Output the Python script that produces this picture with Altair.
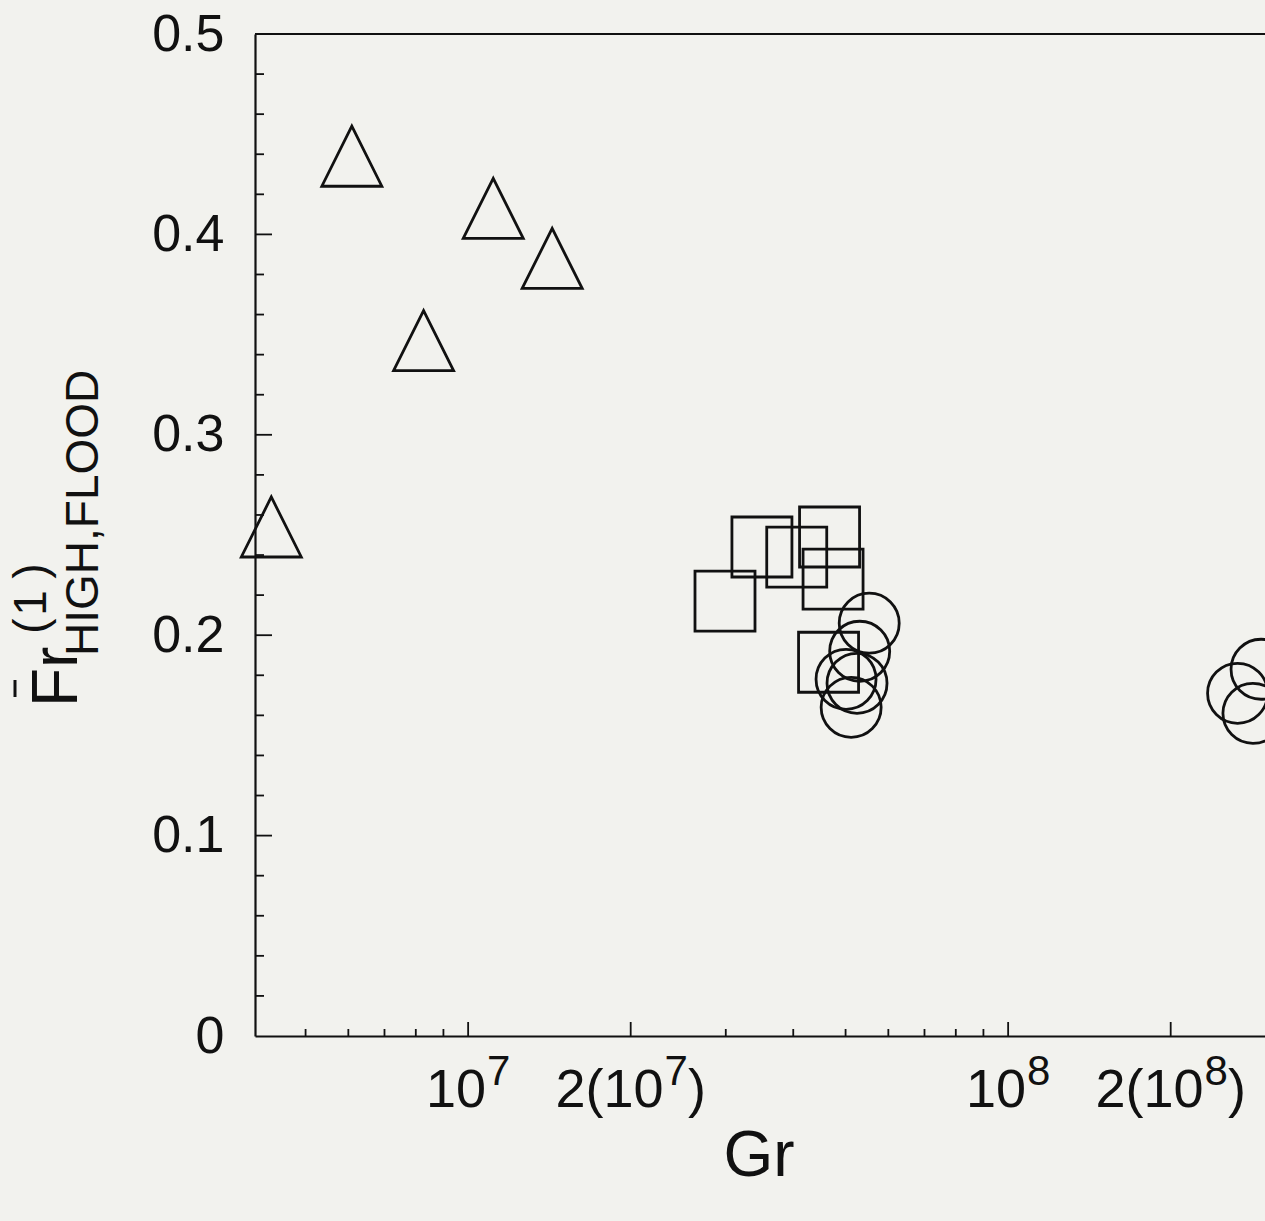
import altair as alt
import pandas as pd

# Measured points: Froude number of the flood flow vs. Grashof number
tri_gr = [4.32e6, 6.09e6, 8.27e6, 1.113e7, 1.431e7]
tri_fr = [0.254, 0.439, 0.347, 0.413, 0.388]

sq_gr = [2.99e7, 3.50e7, 4.06e7, 4.67e7, 4.74e7, 4.65e7]
sq_fr = [0.217, 0.244, 0.239, 0.249, 0.228, 0.1865]

circ_gr = [5.53e7, 5.31e7, 5.01e7, 5.25e7, 5.12e7, 2.94e8, 2.66e8, 2.84e8]
circ_fr = [0.206, 0.192, 0.178, 0.176, 0.164, 0.183, 0.171, 0.161]

series_names = ["triangle", "square", "circle"]

# Axis tick positions
x_major = [1e7, 2e7, 1e8, 2e8]
x_minor = [5e6, 6e6, 7e6, 8e6, 9e6, 3e7, 4e7, 5e7, 6e7, 7e7, 8e7, 9e7]
y_labels = [0.0, 0.1, 0.2, 0.3, 0.4, 0.5]
y_major = [0.1, 0.2, 0.3, 0.4, 0.5]
y_minor = [0.02, 0.04, 0.06, 0.08, 0.12, 0.14, 0.16, 0.18, 0.22, 0.24, 0.26,
           0.28, 0.32, 0.34, 0.36, 0.38, 0.42, 0.44, 0.46, 0.48]

# x tick labels: (mantissa part, exponent, closing part)
x_label_parts = [("10", "7", ""), ("2(10", "7", ")"), ("10", "8", ""), ("2(10", "8", ")")]

x_title = "Gr"
y_title_main = "Fr"
y_title_sup = ["(", "1", ")"]
y_title_sub = "HIGH,FLOOD"

W, H = 1010, 1002
FONT = "Liberation Sans"
INK = "#111111"

xs = alt.Scale(type="log", domain=[4.03e6, 2.99e8], nice=False)
ys = alt.Scale(domain=[0, 0.5], nice=False, zero=False)

ax_x = alt.Axis(domain=True, domainColor=INK, domainWidth=2.2, ticks=False,
                labels=False, grid=False, title=None)
ax_y = alt.Axis(values=y_labels, domain=True, domainColor=INK, domainWidth=2.2,
                ticks=False, grid=False, title=None,
                labelExpr="datum.value == 0 ? '0' : format(datum.value, '.1f')",
                labelFont=FONT, labelFontSize=52, labelColor=INK, labelPadding=31)

pts = pd.DataFrame({
    "Gr": tri_gr + sq_gr + circ_gr,
    "Fr": tri_fr + sq_fr + circ_fr,
    "series": [series_names[0]] * len(tri_gr) + [series_names[1]] * len(sq_gr)
              + [series_names[2]] * len(circ_gr),
})

points = alt.Chart(pts).mark_point(
    filled=False, color=INK, strokeWidth=2.8, size=3600, opacity=1
).encode(
    x=alt.X("Gr:Q", scale=xs, axis=ax_x),
    y=alt.Y("Fr:Q", scale=ys, axis=ax_y),
    shape=alt.Shape("series:N", legend=None,
                    scale=alt.Scale(domain=series_names,
                                    range=["M0,-1L-1,1L1,1Z", "square", "circle"])),
)


def x_ticks(values, length):
    return alt.Chart(pd.DataFrame({"Gr": values})).mark_rule(
        color=INK, strokeWidth=1.8
    ).encode(
        x=alt.X("Gr:Q", scale=xs, axis=ax_x),
        y=alt.value(H), y2=alt.value(H - length),
    )


def y_ticks(values, length):
    return alt.Chart(pd.DataFrame({"Fr": values})).mark_rule(
        color=INK, strokeWidth=1.8
    ).encode(
        y=alt.Y("Fr:Q", scale=ys, axis=ax_y),
        x=alt.value(0), x2=alt.value(length),
    )


one = pd.DataFrame({"k": [0]})
top_border = alt.Chart(one).mark_rule(color=INK, strokeWidth=2.2).encode(
    x=alt.value(0), x2=alt.value(W), y=alt.value(0)
)

# x tick labels built from mantissa, raised exponent and closing parenthesis
BASE_FS, EXP_FS = 54, 42


def text_width(s, fs):
    widths = {"(": 0.333, ")": 0.333}
    return sum(widths.get(c, 0.556) for c in s) * fs


label_layers = []
for value, (base, exp, tail) in zip(x_major, x_label_parts):
    wb = text_width(base, BASE_FS)
    we = text_width(exp, EXP_FS)
    wt = text_width(tail, BASE_FS)
    gap = 1
    left = -(wb + gap + we + wt) / 2
    parts = [(base, BASE_FS, left, H + 71),
             (exp, EXP_FS, left + wb + gap, H + 49)]
    if tail:
        parts.append((tail, BASE_FS, left + wb + gap + we, H + 71))
    for txt, fs, dx, ypos in parts:
        label_layers.append(
            alt.Chart(pd.DataFrame({"Gr": [value], "t": [txt]})).mark_text(
                font=FONT, fontSize=fs, color=INK, align="left",
                baseline="alphabetic", dx=dx
            ).encode(
                x=alt.X("Gr:Q", scale=xs, axis=ax_x),
                y=alt.value(ypos),
                text="t:N",
            )
        )

x_title_layer = alt.Chart(pd.DataFrame({"t": [x_title]})).mark_text(
    font=FONT, fontSize=64, color=INK, align="center", baseline="alphabetic"
).encode(x=alt.value(W / 2 - 1), y=alt.value(1142), text="t:N")

# y title: F-bar r, superscript (1), subscript HIGH,FLOOD
y_main = alt.Chart(pd.DataFrame({"t": [y_title_main]})).mark_text(
    font=FONT, fontSize=64, color=INK, align="left", baseline="alphabetic", angle=270
).encode(x=alt.value(-178), y=alt.value(673), text="t:N")

y_sub = alt.Chart(pd.DataFrame({"t": [y_title_sub]})).mark_text(
    font=FONT, fontSize=46, color=INK, align="left", baseline="alphabetic", angle=270
).encode(x=alt.value(-157), y=alt.value(622), text="t:N")

sup_layers = []
for ch, ypos in zip(y_title_sup, [592, 569, 537]):
    sup_layers.append(
        alt.Chart(pd.DataFrame({"t": [ch]})).mark_text(
            font=FONT, fontSize=46, color=INK, align="center",
            baseline="alphabetic", angle=270
        ).encode(x=alt.value(-209), y=alt.value(ypos), text="t:N")
    )

bar = alt.Chart(one).mark_rule(color=INK, strokeWidth=3).encode(
    x=alt.value(-240), y=alt.value(646), y2=alt.value(663)
)

chart = alt.layer(
    top_border,
    x_ticks(x_major, 14), x_ticks(x_minor, 7),
    y_ticks(y_major, 17), y_ticks(y_minor, 9),
    points,
    *label_layers,
    x_title_layer, y_main, y_sub, *sup_layers, bar,
).properties(
    width=W, height=H,
    autosize=alt.AutoSizeParams(type="none"),
    padding={"left": 255, "top": 34, "right": 0, "bottom": 185},
    background="#f2f2ee",
).configure_view(stroke=None)

chart.save("out.html", embed_options={"renderer": "svg", "actions": False})
